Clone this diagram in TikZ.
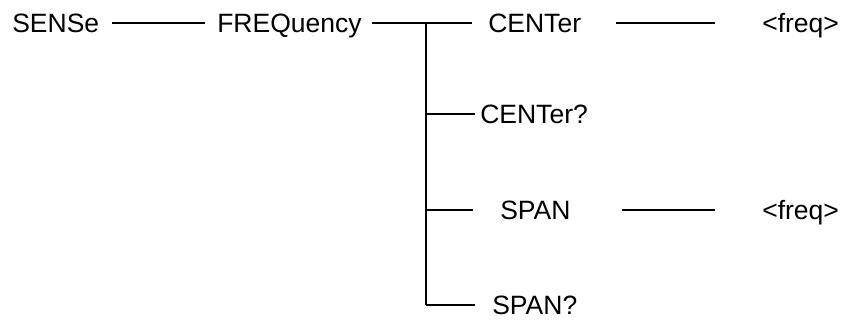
\documentclass[tikz,border=0pt]{standalone}
\usepackage{fontspec}
\setmainfont{Liberation Sans}
\usetikzlibrary{positioning}
\tikzset{
  cmd/.style={inner sep=0pt, anchor=west, font=\fontsize{18.85}{22}\selectfont,
              text height=0.475cm, text depth=0pt},
  wire/.style={black, line width=1.3pt},
}

\begin{document}
\begin{tikzpicture}[x=0.025cm, y=-0.025cm]
    \useasboundingbox (0,0) rectangle (847,324);
    \def\xj{426} \def\rA{23} \def\rB{114} \def\rC{210} \def\rD{305}
    % command tree
    \node[cmd] (sense)   at (12,\rA)  {SENSe};
    \node[cmd] (freq)    at (217,\rA) {FREQuency};
    \node[cmd] (cen)     at (488,\rA) {CENTer};
    \node[cmd] (cenval)  at (762,\rA) {<freq>};
    \node[cmd] (cenq)    at (480,\rB) {CENTer?};
    \node[cmd] (span)    at (500,\rC) {SPAN};
    \node[cmd] (spanval) at (762,\rC) {<freq>};
    \node[cmd] (spanq)   at (492,\rD) {SPAN?};
    \coordinate (jA) at (\xj,\rA);
    \coordinate (jB) at (\xj,\rB);
    \coordinate (jC) at (\xj,\rC);
    \coordinate (jD) at (\xj,\rD);
    % branches
    \draw[wire, shorten <=0.325cm, shorten >=0.3cm] (sense) -- (freq);
    \draw[wire, shorten <=0.25cm] (freq) -- (jA);
    \draw[wire] (jA) -- (jD);
    \draw[wire, shorten >=0.4cm] (jA) -- (cen);
    \draw[wire, shorten <=0.875cm, shorten >=1.175cm] (cen) -- (cenval);
    \draw[wire, shorten >=0.125cm] (jB) -- (cenq);
    \draw[wire, shorten >=0.675cm] (jC) -- (span);
    \draw[wire, shorten <=1.275cm, shorten >=1.175cm] (span) -- (spanval);
    \draw[wire, shorten >=0.425cm] (jD) -- (spanq);
  \end{tikzpicture}
\end{document}
